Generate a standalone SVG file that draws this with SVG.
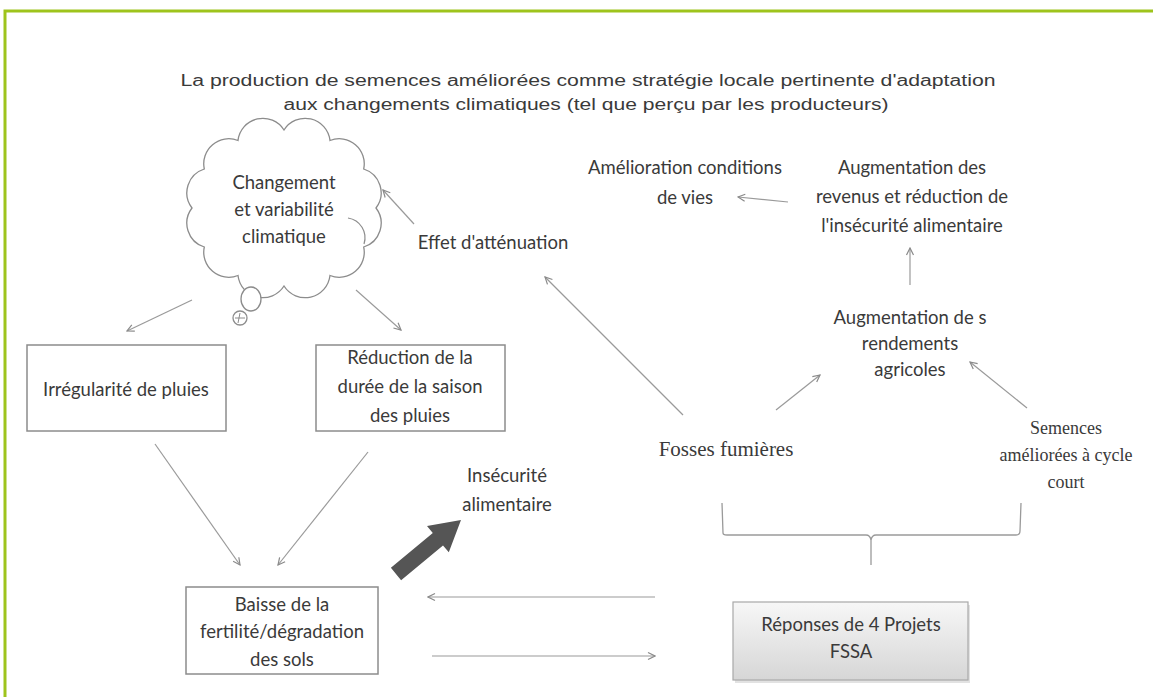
<svg xmlns="http://www.w3.org/2000/svg" width="1153" height="697" viewBox="0 0 1153 697">
<defs>
<marker id="ah" markerWidth="10" markerHeight="10" refX="9" refY="5" orient="auto" markerUnits="userSpaceOnUse">
<path d="M2,1.5 L9,5 L2,8.5" fill="none" stroke="#8a8a8a" stroke-width="1.2"/>
</marker>
<linearGradient id="gr" x1="0" y1="0" x2="0" y2="1">
<stop offset="0" stop-color="#f7f7f7"/>
<stop offset="1" stop-color="#d6d6d6"/>
</linearGradient>
<style>
.t{font-family:Lato,"Open Sans",sans-serif;font-size:18.5px;fill:#3a3a3a;text-anchor:middle}
.s{font-family:"Liberation Serif",serif;font-size:18px;fill:#3a3a3a;text-anchor:middle}
.h{font-family:"Liberation Sans",Arial,sans-serif;font-size:16px;fill:#3a3a3a;text-anchor:middle}
.c{fill:none;stroke:#9a9a9a;stroke-width:1.2;marker-end:url(#ah)}
.b{fill:#fff;stroke:#8c8c8c;stroke-width:1.5}
</style>
</defs>
<rect width="1153" height="697" fill="#fff"/>
<path d="M5,697 V11 H1153" fill="none" stroke="#9ec41c" stroke-width="3"/>
<g id="title">
<text class="h" x="588" y="86" textLength="815" lengthAdjust="spacingAndGlyphs">La production de semences améliorées comme stratégie locale pertinente d'adaptation</text>
<text class="h" x="586" y="110" textLength="605" lengthAdjust="spacingAndGlyphs">aux changements climatiques (tel que perçu par les producteurs)</text>
</g>
<g id="connectors">
<line class="c" x1="192" y1="300" x2="127" y2="331"/>
<line class="c" x1="356" y1="290" x2="401" y2="330"/>
<line class="c" x1="414" y1="224" x2="383" y2="190"/>
<line class="c" x1="155" y1="444" x2="240" y2="565"/>
<line class="c" x1="368" y1="452" x2="278" y2="565"/>
<line class="c" x1="655" y1="597" x2="428" y2="597"/>
<line class="c" x1="432" y1="656" x2="655" y2="656"/>
<line class="c" x1="683" y1="415" x2="545" y2="277"/>
<line class="c" x1="776" y1="410" x2="820" y2="375"/>
<line class="c" x1="1027" y1="408" x2="970" y2="362"/>
<line class="c" x1="910" y1="285" x2="910" y2="248"/>
<line class="c" x1="788" y1="202" x2="738" y2="197"/>
<path d="M722,503 L723,533 Q723,535 727,535 H866 Q870,535 871,540 Q872,535 876,535 H1016 Q1020,535 1020,531 L1021,503 M871,540 V565" fill="none" stroke="#9a9a9a" stroke-width="1.3"/>
<polygon points="390.9,567.8 432.8,533 427,526.1 461,520 448.8,552.3 443,545.4 401.1,580.2" fill="#555"/>
</g>
<g id="cloud">
<path d="M376,208 A25,25 0 0 1 363.7,247 A25,25 0 0 1 330,275.5 A25,25 0 0 1 284,286 A25,25 0 0 1 238,275.5 A25,25 0 0 1 204.3,247 A25,25 0 0 1 192,208 A25,25 0 0 1 204.3,169 A25,25 0 0 1 238,140.5 A25,25 0 0 1 284,130 A25,25 0 0 1 330,140.5 A25,25 0 0 1 363.7,169 A25,25 0 0 1 376,208 Z" fill="#fff" stroke="#8c8c8c" stroke-width="1.3"/>
<path d="M348,218 A20,20 0 0 1 364,244" fill="none" stroke="#8c8c8c" stroke-width="1.2"/>
<ellipse cx="251" cy="299" rx="10" ry="12" fill="#fff" stroke="#8c8c8c" stroke-width="1.3"/>
<circle cx="240" cy="318" r="7" fill="#fff" stroke="#8c8c8c" stroke-width="1.3"/>
<path d="M235,318 H245 M240,313 L238,323" fill="none" stroke="#8c8c8c" stroke-width="1"/>
<text class="t" x="284" y="189">Changement</text>
<text class="t" x="284" y="216">et variabilité</text>
<text class="t" x="284" y="243">climatique</text>
</g>
<g id="n-irregularite">
<rect class="b" x="27" y="345" width="199" height="86"/>
<text class="t" x="126" y="396">Irrégularité de pluies</text>
</g>
<g id="n-reduction">
<rect class="b" x="316" y="345" width="189" height="86"/>
<text class="t" x="410" y="364">Réduction de la</text>
<text class="t" x="410" y="393">durée de la saison</text>
<text class="t" x="410" y="422">des pluies</text>
</g>
<g id="n-baisse">
<rect class="b" x="186" y="587" width="192" height="87"/>
<text class="t" x="282" y="611">Baisse de la</text>
<text class="t" x="282" y="638">fertilité/dégradation</text>
<text class="t" x="282" y="666">des sols</text>
</g>
<g id="n-insecurite">
<text class="t" x="507" y="482">Insécurité</text>
<text class="t" x="507" y="511">alimentaire</text>
</g>
<g id="n-reponses">
<rect x="735" y="605" width="235" height="78" fill="#cfcfcf" opacity="0.6"/>
<rect x="733" y="602" width="235" height="78" fill="url(#gr)" stroke="#a8a8a8" stroke-width="1.2"/>
<text class="t" x="851" y="631">Réponses de 4 Projets</text>
<text class="t" x="851" y="658">FSSA</text>
</g>
<g id="n-effet">
<text class="t" x="493" y="249">Effet d'atténuation</text>
</g>
<g id="n-amelioration">
<text class="t" x="685" y="174">Amélioration conditions</text>
<text class="t" x="685" y="204">de vies</text>
</g>
<g id="n-revenus">
<text class="t" x="912" y="174">Augmentation des</text>
<text class="t" x="912" y="203">revenus et réduction de</text>
<text class="t" x="912" y="232">l'insécurité alimentaire</text>
</g>
<g id="n-rendements">
<text class="t" x="910" y="324">Augmentation de s</text>
<text class="t" x="910" y="350">rendements</text>
<text class="t" x="910" y="376">agricoles</text>
</g>
<g id="n-fosses">
<text class="s" x="726" y="456" style="font-size:21px">Fosses fumières</text>
</g>
<g id="n-semences">
<text class="s" x="1066" y="434">Semences</text>
<text class="s" x="1066" y="461">améliorées à cycle</text>
<text class="s" x="1066" y="488">court</text>
</g>
</svg>
